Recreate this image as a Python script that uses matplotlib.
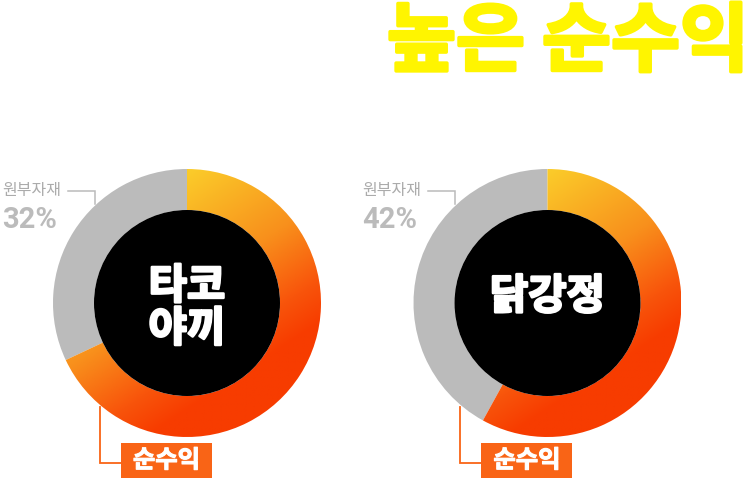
import matplotlib
matplotlib.use("Agg")
import matplotlib.pyplot as plt
import matplotlib.patheffects as pe
import numpy as np
from matplotlib.patches import Wedge, Circle, Rectangle
from matplotlib.colors import LinearSegmentedColormap

plt.rcParams['font.family'] = ['Noto Sans CJK KR', 'DejaVu Sans']

title = "높은 순수익"
menus = ["타코\n야끼", "닭강정"]
cost_pct = [32, 42]        # 원부자재
profit_pct = [68, 58]      # 순수익
cost_label = "원부자재"
profit_label = "순수익"

W, H = 746, 481
fig = plt.figure(figsize=(W / 100, H / 100), dpi=100)
ax = fig.add_axes([0, 0, 1, 1])
ax.set_xlim(0, W)
ax.set_ylim(0, H)
ax.set_aspect("equal")
ax.axis("off")


def Y(y):
    # image pixel row -> data y
    return H - y


grad = LinearSegmentedColormap.from_list(
    "g", [(0, "#FBCD2A"), (0.45, "#F8901C"), (0.74, "#F8540B"), (0.9, "#F73C00"),
          (1, "#F73C00")])

gray = "#BBBBBB"
orange = "#F96416"
R, r_in = 134, 93
centers = [(187, 304), (547.5, 304)]
label_x = [2, 362]
menu_y = [309, 298]

for i, (menu, cost, prof) in enumerate(zip(menus, cost_pct, profit_pct)):
    cx, cy = centers[i]
    total = cost + prof
    split = 90 + 360 * cost / total
    ax.add_patch(Wedge((cx, Y(cy)), R, 90, split, width=R - r_in,
                       facecolor=gray, edgecolor="none"))
    ring = Wedge((cx, Y(cy)), R, split, 450, width=R - r_in,
                 facecolor="none", edgecolor="none")
    ax.add_patch(ring)
    # slanted linear gradient over the profit part
    n = 300
    xs = np.linspace(-1, 1, n)
    gx, gy = np.meshgrid(xs, xs)          # gy: downward in image
    t = 0.548 * gx + 0.836 * gy
    t = np.clip((t + 0.84) / 1.68, 0, 1)
    im = ax.imshow(grad(t), extent=(cx - R, cx + R, Y(cy + R), Y(cy - R)),
                   origin="upper", interpolation="bilinear", zorder=1)
    im.set_clip_path(ring)
    ax.add_patch(Circle((cx, Y(cy)), r_in, facecolor="black",
                        edgecolor="none", zorder=2))
    ax.text(cx, Y(menu_y[i]), menu, ha="center", va="center", color="white",
            fontsize=30, fontweight="black", linespacing=1.02, zorder=3,
            path_effects=[pe.withStroke(linewidth=1.8, foreground="white")])

    # 원부자재 label
    lx = label_x[i]
    ax.text(lx, Y(190), cost_label, ha="left", va="center", color="#ABABAB",
            fontsize=11.5, fontweight="medium")
    ax.text(lx, Y(220), f"{cost}%", ha="left", va="center", color=gray,
            fontsize=21, fontweight="bold", family=["Roboto", "DejaVu Sans"])
    x0 = lx + 66
    x1 = cx - 92
    ax.plot([x0, x1, x1], [Y(192), Y(192), Y(205)], color=gray, lw=1.1,
            solid_joinstyle="miter")

    # 순수익 label
    bx = cx - 66
    ax.plot([bx, cx - 87, cx - 87], [Y(464), Y(464), Y(408)], color=orange,
            lw=1.3, solid_joinstyle="miter")
    ax.add_patch(Rectangle((bx, Y(479)), 91, 35, facecolor=orange,
                           edgecolor="none"))
    ax.text(bx + 45.5, Y(461.5), profit_label, ha="center", va="center",
            color="white", fontsize=17.5, fontweight="bold",
            path_effects=[pe.withStroke(linewidth=0.8, foreground="white")])

ax.text(387, Y(44), title, ha="left", va="center", color="#FFF500",
        fontsize=54, fontweight="black",
        path_effects=[pe.withStroke(linewidth=2.5, foreground="#FFF500")])

fig.savefig("out.png", dpi=100)
